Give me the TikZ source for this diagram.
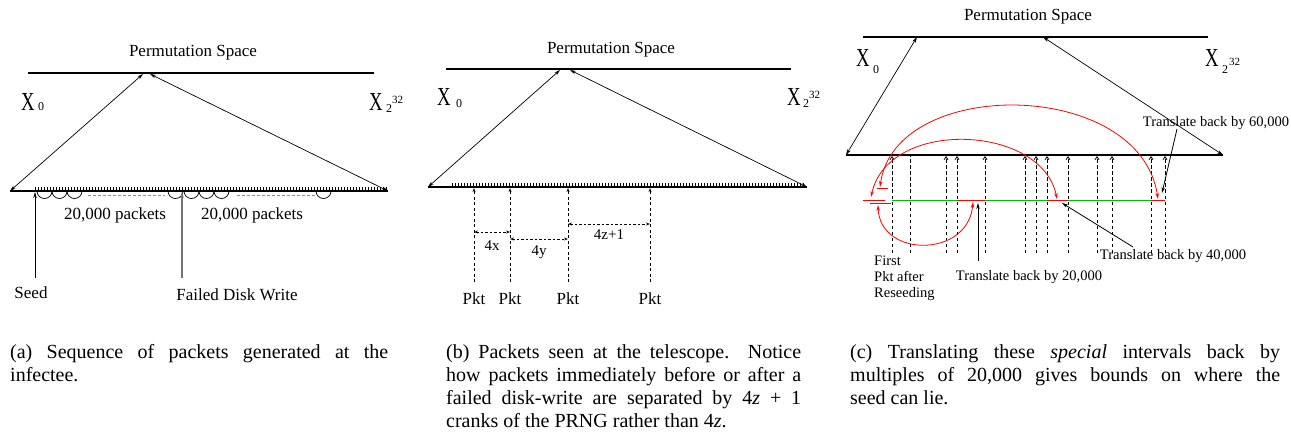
\documentclass[tikz,border=0pt]{standalone}
\usepackage{fontspec}
\setmainfont{Liberation Serif}
\usetikzlibrary{arrows.meta}
\tikzset{
 mainln/.style={line width=1.1pt},
 thinln/.style={line width=0.7pt},
 dbl/.style={thinln,{Stealth[length=6pt,width=3.5pt]}-{Stealth[length=6pt,width=3.5pt]}},
 uparr/.style={line width=0.8pt,-{Stealth[length=6pt,width=3.5pt]}},
 lbl/.style={inner sep=0pt,font=\fontsize{17}{20}\selectfont},
 lblc/.style={inner sep=0pt,font=\fontsize{14.5}{16}\selectfont},
 lblb/.style={inner sep=0pt,font=\fontsize{15}{17}\selectfont},
 bigx/.style={inner sep=0pt,font=\fontsize{26}{26}\selectfont},
 subs/.style={inner sep=0pt,font=\fontsize{12}{12}\selectfont},
 sups/.style={inner sep=0pt,font=\fontsize{11}{11}\selectfont},
 tickm/.style={line width=0.6pt},
 loopc/.style={line width=0.7pt},
 graydash/.style={black!45,line width=1pt,dash pattern=on 3pt off 2pt},
 pktline/.style={line width=0.7pt,dash pattern=on 3pt off 2.5pt,-{Stealth[open,length=4pt,width=3pt]}},
 vdash/.style={line width=0.8pt,dash pattern=on 3.5pt off 2.5pt},
 vdarr/.style={vdash,-{Straight Barb[length=3pt,width=4pt]}},
 dimarr/.style={line width=0.7pt,dash pattern=on 2.5pt off 2pt,{Stealth[open,length=4pt,width=3pt]}-{Stealth[open,length=4pt,width=3pt]}},
 redarc/.style={red,line width=0.8pt,{Stealth[length=6pt,width=3.5pt]}-{Stealth[length=6pt,width=3.5pt]}},
 redln/.style={red,line width=1pt},
 greenln/.style={green!75!black,line width=1pt},
 captxt/.style={inner sep=0pt,anchor=north west,align=justify,font=\fontsize{20}{23}\selectfont},
}
\newcommand{\bigX}{\scalebox{0.72}[1]{X}}
\begin{document}
\begin{tikzpicture}[x=1pt,y=-1pt]
\useasboundingbox (0,0) rectangle (1291,441);

% ================= Panel (a) =================
\node[lbl] (psa) at (193,53) {Permutation Space};
\coordinate (aTL) at (28,73);
\coordinate (aTR) at (374,73);
\coordinate (aApL) at (143,74);
\coordinate (aApR) at (150,74);
\coordinate (aBL) at (10,191);
\coordinate (aBR) at (388,191);
\draw[mainln] (aTL) -- (aTR);
\draw[mainln] (aBL) -- (aBR);
\draw[dbl] (aBL) -- (aApL);
\draw[dbl] (aBR) -- (aApR);
\foreach \i in {0,...,117} \draw[tickm] ({35+3*\i},187.5) -- ++(0,3.5);
\node[bigx,anchor=base west] (ax) at (21,111) {\bigX};
\node[subs,anchor=base west] (ax0) at (38,111) {0};
\node[bigx,anchor=base west] (axn) at (369,111) {\bigX};
\node[subs,anchor=base west] (axn2) at (386,113) {2};
\node[sups,anchor=base west] (axn32) at (392,104) {32};
% loops
\foreach \s in {37,52,67,168,184,199,214,316}
  \draw[loopc] (\s,191) arc[start angle=180,end angle=0,radius=7.5];
\draw[graydash] (88,195) -- (165,195);
\draw[graydash] (237,195) -- (315,195);
\node[lbl] (pk1) at (115,215) {20,000 packets};
\node[lbl] (pk2) at (252,215) {20,000 packets};
\node[lbl,anchor=north] (seed) at (31,287) {Seed};
\node[lbl,anchor=north] (fdw) at (237,289) {Failed Disk Write};
\coordinate (seedS) at (35,278);
\coordinate (seedE) at (35,192);
\coordinate (fdwS) at (182,278);
\coordinate (fdwE) at (182,192);
\draw[uparr] (seedS) -- (seedE);
\draw[uparr,black!55,line width=1.1pt] (fdwS) -- (fdwE);

% ================= Panel (b) =================
\node[lbl] (psb) at (611,50) {Permutation Space};
\coordinate (bTL) at (446,69);
\coordinate (bTR) at (791,69);
\coordinate (bApL) at (560,70);
\coordinate (bApR) at (570,70);
\coordinate (bBL) at (428,187);
\coordinate (bBR) at (807,187);
\draw[mainln] (bTL) -- (bTR);
\draw[mainln] (bBL) -- (bBR);
\draw[dbl] (bBL) -- (bApL);
\draw[dbl] (bBR) -- (bApR);
\foreach \i in {0,...,117} \draw[tickm] ({452+3*\i},183.5) -- ++(0,3.5);
\node[bigx,anchor=base west] (bx) at (437,106) {\bigX};
\node[subs,anchor=base west] (bx0) at (456,108) {0};
\node[bigx,anchor=base west] (bxn) at (787,106) {\bigX};
\node[subs,anchor=base west] (bxn2) at (803,108) {2};
\node[sups,anchor=base west] (bxn32) at (809,99) {32};
\foreach \x/\n in {474/1,510/2,568/3,650/4}{
  \coordinate (pb\n) at (\x,282);
  \coordinate (pt\n) at (\x,188);
  \draw[pktline] (pb\n) -- (pt\n);
  \node[lbl,anchor=base] (pkt\n) at (\x,304) {Pkt};
}
\coordinate (d1a) at (474,232); \coordinate (d1b) at (510,232);
\coordinate (d2a) at (510,239); \coordinate (d2b) at (568,239);
\coordinate (d3a) at (568,224); \coordinate (d3b) at (650,224);
\draw[dimarr] (d1a) -- (d1b);
\draw[dimarr] (d2a) -- (d2b);
\draw[dimarr] (d3a) -- (d3b);
\node[lblb] (l4x) at (492,246) {4x};
\node[lblb] (l4y) at (539,252) {4y};
\node[lblb] (l4z) at (609,235) {4z+1};

% ================= Panel (c) =================
\node[lbl] (psc) at (1028,17) {Permutation Space};
\coordinate (cTL) at (863,37);
\coordinate (cTR) at (1208,37);
\coordinate (cApL) at (917,37);
\coordinate (cApR) at (1043,37);
\coordinate (cBL) at (846,155);
\coordinate (cBR) at (1223,155);
\draw[mainln] (cTL) -- (cTR);
\draw[mainln] (cBL) -- (cBR);
\draw[dbl] (cBL) -- (cApL);
\draw[dbl] (cBR) -- (cApR);
\node[bigx,anchor=base west] (cx) at (856,67) {\bigX};
\node[subs,anchor=base west] (cx0) at (873,74) {0};
\node[bigx,anchor=base west] (cxn) at (1205,67) {\bigX};
\node[subs,anchor=base west] (cxn2) at (1222,74) {2};
\node[sups,anchor=base west] (cxn32) at (1229,66) {32};
% dashed verticals
\foreach \x/\n in {892/1,946/3,957/4,985/5,1025/6,1036/7,1047/8,1068/9,1097/10,1112/11,1151/12,1165/13}{
  \coordinate (vb\n) at (\x,253);
  \coordinate (vt\n) at (\x,156);
  \draw[vdarr] (vb\n) -- (vt\n);
}
\coordinate (vb2) at (910,253); \coordinate (vt2) at (910,156);
\draw[vdash] (vb2) -- (vt2);
% green and red intervals
\coordinate (gL) at (892,200); \coordinate (gR) at (1165,200);
\draw[greenln] (gL) -- (gR);
\draw[redln] (957,200) -- (985,200);
\draw[redln] (1047,200) -- (1068,200);
\draw[redln] (1151,200) -- (1165,200);
\draw[redln] (863,200) -- (885,200);
\draw[redln] (870,203.5) -- (891,203.5);
\draw[redln] (877,188.5) -- (888,188.5);
% red arcs
\coordinate (bigR) at (1158,199); \coordinate (bigL) at (880,187);
\coordinate (medR) at (1057,199); \coordinate (medL) at (871,197);
\coordinate (smR) at (973,202); \coordinate (smL) at (878,205);
\draw[redarc] (bigR) .. controls (1140,78) and (895,76) .. (bigL);
\draw[redarc] (medR) .. controls (1042,124) and (888,118) .. (medL);
\draw[redarc] (smR) .. controls (968,258) and (880,258) .. (smL);
% black arrows and labels
\node[lblc] (t20) at (1029,277) {Translate back by 20,000};
\node[lblc] (t40) at (1173,256) {Translate back by 40,000};
\node[lblc] (t60) at (1216,123) {Translate back by 60,000};
\coordinate (a20s) at (978,261); \coordinate (a20e) at (978,203);
\coordinate (a40s) at (1133,247); \coordinate (a40e) at (1062,203);
\coordinate (a60s) at (1177,129); \coordinate (a60e) at (1162,193);
\draw[uparr] (a20s) -- (a20e);
\draw[uparr] (a40s) -- (a40e);
\draw[uparr] (a60s) -- (a60e);
\node[lblc,anchor=north west,align=left,font=\fontsize{14.5}{16}\selectfont] (first) at (874,256) {First\\Pkt after\\Reseeding};

% ================= Captions =================
\node[captxt,text width=378pt] (capa) at (10,344) {(a) Sequence of packets generated at the\linebreak infectee.};
\node[captxt,text width=355pt] (capb) at (446,344) {(b) Packets seen at the telescope. Notice\linebreak how packets immediately before or after a\linebreak failed disk-write are separated by 4\textit{z} + 1\linebreak cranks of the PRNG rather than 4\textit{z}.};
\node[captxt,text width=430pt] (capc) at (850,344) {(c) Translating these \emph{special} intervals back by\linebreak multiples of 20,000 gives bounds on where the\linebreak seed can lie.};
\end{tikzpicture}
\end{document}
